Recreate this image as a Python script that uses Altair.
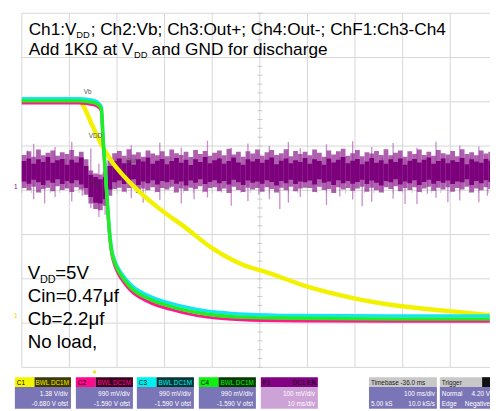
import altair as alt
import pandas as pd
import numpy as np

# ---------------- data (screen divisions: x = time div, y = vertical div) -------------
yellow_t = [0, 1.20, 1.28, 1.47, 1.67, 1.88, 2.17, 2.44, 2.85, 3.41, 4.03, 4.71, 5.12, 5.95, 6.98, 7.98, 8.99, 9.83]
yellow_v = [2.04, 2.02, 1.93, 1.49, 1.04, 0.67, 0.29, 0.0, -0.38, -0.82, -1.33, -1.71, -1.84, -2.16, -2.44, -2.62, -2.73, -2.82]

fall_t = [0, 1.20, 1.51, 1.63, 1.67, 1.71, 1.76, 1.80, 1.84, 1.88, 1.94, 2.02, 2.15, 2.29, 2.64, 3.12, 3.68, 4.71, 5.74, 7.81, 9.83]
green_v = [2.02, 2.02, 1.98, 1.91, 1.84, 1.11, 0.33, -0.33, -0.93, -1.33, -1.60, -1.80, -2.02, -2.20, -2.44, -2.62, -2.76, -2.87, -2.89, -2.91, -2.91]
cyan_v = [2.07, 2.07, 2.03, 1.95, 1.88, 1.15, 0.37, -0.29, -0.89, -1.29, -1.55, -1.75, -1.96, -2.13, -2.37, -2.55, -2.69, -2.80, -2.83, -2.84, -2.84]
pink_v = [1.97, 1.97, 1.93, 1.86, 1.79, 1.06, 0.28, -0.38, -0.98, -1.38, -1.66, -1.87, -2.09, -2.27, -2.51, -2.69, -2.83, -2.93, -2.95, -2.96, -2.96]

# ChF1 (Ch3-Ch4) noise envelope, one column per 0.1 div
core_hi = [0.66,0.72,0.60,0.70,0.64,0.75,0.62,0.68,0.71,0.58,
           0.69,0.63,0.74,0.55,0.35,0.30,0.25,0.30,0.55,0.66,
           0.72,0.61,0.68,0.58,0.70,0.65,0.74,0.60,0.67,0.71,
           0.59,0.66,0.73,0.62,0.69,0.57,0.70,0.64,0.75,0.61,
           0.68,0.72,0.60,0.66,0.74,0.63,0.58,0.70,0.65,0.71,
           0.62,0.69,0.74,0.59,0.67,0.72,0.61,0.68,0.64,0.73,
           0.60,0.70,0.66,0.58,0.72,0.63,0.69,0.75,0.61,0.67,
           0.71,0.59,0.65,0.73,0.62,0.68,0.60,0.70,0.64,0.72,
           0.58,0.67,0.71,0.63,0.69,0.74,0.60,0.66,0.72,0.61,
           0.68,0.64,0.73,0.59,0.70,0.65,0.62,0.71,0.67]
core_lo = [0.20,0.15,0.24,0.18,0.12,0.22,0.17,0.25,0.14,0.21,
           0.16,0.23,0.13,0.05,-0.15,-0.28,-0.30,-0.20,0.02,0.18,
           0.22,0.14,0.19,0.25,0.12,0.20,0.16,0.23,0.13,0.21,
           0.18,0.24,0.15,0.20,0.11,0.22,0.17,0.25,0.14,0.19,
           0.23,0.16,0.21,0.13,0.24,0.18,0.12,0.22,0.17,0.20,
           0.15,0.23,0.19,0.11,0.21,0.16,0.24,0.14,0.20,0.18,
           0.22,0.13,0.25,0.17,0.20,0.12,0.23,0.16,0.21,0.15,
           0.19,0.24,0.14,0.22,0.17,0.11,0.21,0.18,0.25,0.13,
           0.20,0.16,0.23,0.12,0.19,0.24,0.15,0.21,0.17,0.22,
           0.14,0.20,0.18,0.25,0.12,0.21,0.16,0.23,0.19]
outer_hi = [0.80,0.88,0.76,0.92,0.79,0.85,0.90,0.78,0.86,0.82,
            0.91,0.77,0.87,0.70,0.45,0.38,0.36,0.42,0.68,0.84,
            0.89,0.78,0.93,0.81,0.86,0.76,0.90,0.83,0.79,0.88,
            0.77,0.92,0.84,0.80,0.87,0.75,0.91,0.82,0.89,0.78,
            0.85,0.90,0.79,0.94,0.81,0.87,0.76,0.88,0.83,0.92,
            0.78,0.86,0.91,0.80,0.84,0.93,0.77,0.89,0.82,0.87,
            0.79,0.92,0.85,0.76,0.90,0.81,0.88,0.94,0.78,0.84,
            0.91,0.77,0.86,0.83,0.89,0.80,0.93,0.79,0.85,0.90,
            0.76,0.88,0.82,0.92,0.80,0.87,0.78,0.91,0.84,0.81,
            0.89,0.77,0.93,0.82,0.86,0.79,0.90,0.83,0.87]
outer_lo = [0.05,0.00,0.08,-0.05,0.03,0.06,-0.02,0.09,0.01,0.04,
            -0.04,0.07,0.02,-0.10,-0.30,-0.42,-0.45,-0.35,-0.12,0.03,
            0.06,-0.03,0.05,0.08,-0.06,0.04,0.00,0.07,-0.04,0.05,
            0.02,0.08,-0.05,0.04,-0.01,0.06,0.03,0.09,-0.03,0.05,
            0.07,-0.02,0.04,-0.06,0.08,0.01,-0.04,0.06,0.02,0.05,
            -0.03,0.07,0.03,-0.05,0.06,0.00,0.08,-0.02,0.04,0.06,
            0.05,-0.04,0.08,0.01,0.03,-0.06,0.07,0.02,0.05,-0.01,
            0.04,0.08,-0.03,0.06,0.00,-0.05,0.07,0.03,0.09,-0.02,
            0.05,0.01,0.07,-0.04,0.04,0.08,-0.01,0.06,0.02,0.07,
            -0.03,0.05,0.02,0.08,-0.05,0.04,0.00,0.07,0.03]
spike_t = [0.12, 0.25, 0.48, 0.7, 0.93, 1.05, 1.27, 1.45, 1.62, 1.75, 1.98, 2.3, 2.55, 2.9, 3.12, 3.35,
           3.62, 3.9, 4.15, 4.4, 4.75, 4.98, 5.2, 5.42, 5.6, 5.85, 6.12, 6.4, 6.68, 6.95, 7.15, 7.35,
           7.58, 7.8, 8.05, 8.3, 8.52, 8.7, 8.95, 9.2, 9.42, 9.6, 9.78]
spike_top = [0.90, 1.05, 0.70, 0.98, 0.72, 1.10, 0.75, 0.95, 0.60, 0.70, 0.74, 1.02, 0.72, 1.08, 0.76, 0.97,
             0.70, 1.12, 0.74, 0.96, 1.06, 0.71, 1.00, 0.76, 1.09, 0.95, 0.72, 1.04, 0.75, 1.11, 0.70, 0.98,
             0.74, 1.07, 0.71, 0.96, 0.77, 1.10, 0.73, 1.01, 0.75, 0.99, 0.72]
spike_bot = [0.10, -0.20, -0.30, -0.15, 0.05, -0.25, -0.12, -0.40, -0.60, -0.55, 0.08, -0.18, -0.28, -0.22, 0.05, -0.30,
             -0.20, -0.16, 0.04, -0.35, -0.24, -0.10, -0.20, -0.42, -0.28, -0.15, 0.06, -0.33, -0.14, -0.21, -0.36, -0.26,
             0.02, -0.19, -0.31, -0.31, -0.08, -0.17, -0.27, -0.23, 0.05, -0.27, -0.12]

grid_x = [0, 1, 2, 3, 4, 5, 6, 7, 8, 9, 10]
grid_y = [-4, -3, -2, -1, 0, 1, 2, 3, 4]

# ---------------- geometry of the screen ----------------
X0, PXD = 22.0, 48.4     # image px of division 0, px per division
Y0, PYD = 190.0, 45.0
D_MIN, D_MAX = (8 - X0) / PXD, (498 - X0) / PXD
V_MAX, V_MIN = (Y0 - 8) / PYD, (Y0 - 411) / PYD
W, H = 490, 403

xs = alt.Scale(domain=[D_MIN, D_MAX], nice=False, zero=False)
ys = alt.Scale(domain=[V_MIN, V_MAX], nice=False, zero=False)
FONT = "Liberation Sans"

def X(f, t="Q"):
    return alt.X(f"{f}:{t}", scale=xs, axis=None)

def Y(f, t="Q"):
    return alt.Y(f"{f}:{t}", scale=ys, axis=None)

# grid
vgrid = pd.DataFrame({"x": grid_x, "y0": -4, "y1": 4})
hgrid = pd.DataFrame({"y": grid_y, "x0": 0, "x1": 10})
gv = alt.Chart(vgrid).mark_rule(color="#d6d6d6", strokeWidth=1, clip=True).encode(
    x=X("x"), y=Y("y0"), y2="y1")
gh = alt.Chart(hgrid).mark_rule(color="#d6d6d6", strokeWidth=1, clip=True).encode(
    y=Y("y"), x=X("x0"), x2="x1")
tv = pd.DataFrame({"y": np.round(np.arange(-4, 4.01, 0.2), 2)})
tv["x0"], tv["x1"] = 5 - 0.05, 5 + 0.05
th = pd.DataFrame({"x": np.round(np.arange(0, 10.01, 0.2), 2)})
th["y0"], th["y1"] = -0.06, 0.06
ticks_v = alt.Chart(tv).mark_rule(color="#c8c8c8", clip=True).encode(y=Y("y"), x=X("x0"), x2="x1")
ticks_h = alt.Chart(th).mark_rule(color="#c8c8c8", clip=True).encode(x=X("x"), y=Y("y0"), y2="y1")

# noise F1
cols = pd.DataFrame({"t": np.round(np.arange(len(core_hi)) * 0.1, 2),
                     "chi": core_hi, "clo": core_lo, "ohi": outer_hi, "olo": outer_lo})
outer = alt.Chart(cols).transform_calculate(t2="datum.t + 0.1").mark_rect(
    color="#8c1c8c", opacity=0.7, clip=True).encode(x=X("t"), x2="t2:Q", y=Y("ohi"), y2="olo")
core = alt.Chart(cols).transform_calculate(t2="datum.t + 0.1").mark_rect(
    color="#7c007c", clip=True).encode(x=X("t"), x2="t2:Q", y=Y("chi"), y2="clo")
spk = pd.DataFrame({"t": spike_t, "top": spike_top, "bot": spike_bot})
spikes = alt.Chart(spk).mark_rule(color="#9a30a0", opacity=0.55, strokeWidth=1.3, clip=True).encode(
    x=X("t"), y=Y("top"), y2="bot")

def trace(t, v, color, w):
    df = pd.DataFrame({"t": t, "v": v})
    return alt.Chart(df).mark_line(color=color, strokeWidth=w, interpolate="monotone", clip=True).encode(
        x=X("t"), y=Y("v"), order="t:Q")

pink = trace(fall_t, pink_v, "#ff1a8c", 3)
cyan = trace(fall_t, cyan_v, "#12e6f0", 3.5)
green = trace(fall_t, green_v, "#22ec22", 3.5)
yellow = trace(yellow_t, yellow_v, "#f2f200", 4.5)

# ---------------- bottom info panels (screen furniture, pixel space) ----------------
O = 8  # page margin
panels = [
    (15, 72, "#f5f500", "#3c3800", "#7a75b6", "C1", "BWL DC1M", "1.38 V/div", "-0.680 V ofst"),
    (77, 135, "#ff0a8c", "#3a0020", "#7a75b6", "C2", "BWL DC1M", "990 mV/div", "-1.590 V ofst"),
    (139, 197, "#00f0f0", "#003838", "#7a75b6", "C3", "BWL DC1M", "990 mV/div", "-1.590 V ofst"),
    (202, 260, "#10f010", "#003800", "#7a75b6", "C4", "BWL DC1M", "990 mV/div", "-1.590 V ofst"),
]
rects, texts_l, texts_r = [], [], []
for x0, x1, c, dk, body, head, dt, l1, l2 in panels:
    rects += [(x0, x0 + 20, 380, 390, c), (x0 + 20, x1, 380, 390, dk), (x0, x1, 390, 412, body)]
    texts_l.append((x0 + 2, 388, head, "#000000"))
    texts_r.append((x1 - 2, 388, dt, c))
    texts_r += [(x1 - 3, 399, l1, "#ffffff"), (x1 - 3, 409, l2, "#ffffff")]
rects += [(265, 323, 380, 390, "#820082"), (265, 323, 390, 412, "#cda2d6")]
texts_l.append((267, 388, "F1", "#000000"))
texts_r += [(321, 388, "DC1 EN", "#000000"), (320, 399, "100 mV/div", "#ffffff"), (320, 409, "10 ms/div", "#ffffff")]
rects += [(375, 444, 380, 390, "#c8c8c8"), (375, 444, 390, 412, "#7a75b6"),
          (447, 498, 380, 390, "#c8c8c8"), (490, 498, 380, 390, "#111111"), (447, 498, 390, 412, "#7a75b6")]
texts_l += [(377, 388, "Timebase  -36.0 ms", "#222222"), (449, 388, "Trigger", "#222222"),
            (377, 409, "5.00 kS", "#ffffff"), (449, 399, "Normal", "#ffffff"), (449, 409, "Edge", "#ffffff")]
texts_r += [(442, 399, "100 ms/div", "#ffffff"), (442, 409, "10.0 kS/s", "#ffffff"),
            (498, 399, "4.20 V", "#ffffff"), (498, 409, "Negative", "#ffffff")]

rdf = pd.DataFrame(rects, columns=["x0", "x1", "y0", "y1", "c"])
for k in ["x0", "x1", "y0", "y1"]:
    rdf[k] = rdf[k] - O
panel_rects = alt.Chart(rdf).mark_rect().encode(
    x=alt.X("x0:Q", scale=None), x2="x1:Q", y=alt.Y("y0:Q", scale=None), y2="y1:Q",
    color=alt.Color("c:N", scale=None))

def small_text(rows, align):
    df = pd.DataFrame(rows, columns=["x", "y", "s", "c"])
    df["x"] -= O
    df["y"] -= O
    return alt.Chart(df).mark_text(align=align, baseline="alphabetic", fontSize=6.5, font=FONT).encode(
        x=alt.X("x:Q", scale=None), y=alt.Y("y:Q", scale=None), text="s:N",
        color=alt.Color("c:N", scale=None))

pt_l = small_text(texts_l, "left")
pt_r = small_text(texts_r, "right")

# ---------------- annotation texts ----------------
ann = [
    (29, 32, "Ch1:V", 17.5), (77.5, 35, "DD", 9.5), (92, 32, "; Ch2:Vb; Ch3:Out+; Ch4:Out-; ChF1:Ch3-Ch4", 17.5),
    (29, 52, "Add 1K\u03a9 at V", 17.5), (136, 55, "DD", 9.5), (154, 52, "and GND for discharge", 17.5),
    (28, 280, "V", 19), (40.5, 284, "DD", 11), (56, 280, "=5V", 19),
    (28, 303.5, "Cin=0.47\u03bcf", 19),
    (28, 327, "Cb=2.2\u03bcf", 19),
    (28, 350.5, "No load,", 19),
]
adf = pd.DataFrame(ann, columns=["x", "y", "s", "fs"])
adf["x"] -= O
adf["y"] -= O
annot = alt.Chart(adf).mark_text(align="left", baseline="alphabetic", font=FONT, color="#000000").encode(
    x=alt.X("x:Q", scale=None), y=alt.Y("y:Q", scale=None), text="s:N",
    size=alt.Size("fs:Q", scale=None))

marks = [(85, 92, "Vb", "#555555"), (90, 137, "VDD", "#555555"), (128, 162, "Out", "#555555"),
         (92, 186, "F1", "#333333"), (14, 189, "1", "#900090"), (14, 320, "1", "#d8d800")]
mdf = pd.DataFrame(marks, columns=["x", "y", "s", "c"])
mdf["x"] -= O
mdf["y"] -= O
mk = alt.Chart(mdf).mark_text(align="left", baseline="alphabetic", fontSize=6.5, font=FONT).encode(
    x=alt.X("x:Q", scale=None), y=alt.Y("y:Q", scale=None), text="s:N",
    color=alt.Color("c:N", scale=None))

trig = alt.Chart(pd.DataFrame({"x": [96 - O], "y": [374 - O]})).mark_point(
    shape="triangle-up", filled=True, color="#e8e800", size=18, opacity=1).encode(
    x=alt.X("x:Q", scale=None), y=alt.Y("y:Q", scale=None))

chart = alt.layer(
    gv, gh, ticks_v, ticks_h, outer, spikes, core, yellow, pink, cyan, green,
    panel_rects, pt_l, pt_r, annot, mk, trig
).properties(
    width=W, height=H, padding=0, autosize=alt.AutoSizeParams(type="none"),
    background="#ffffff"
).configure_view(stroke=None)

chart.save("out.html", embed_options={"renderer": "svg", "actions": False})
